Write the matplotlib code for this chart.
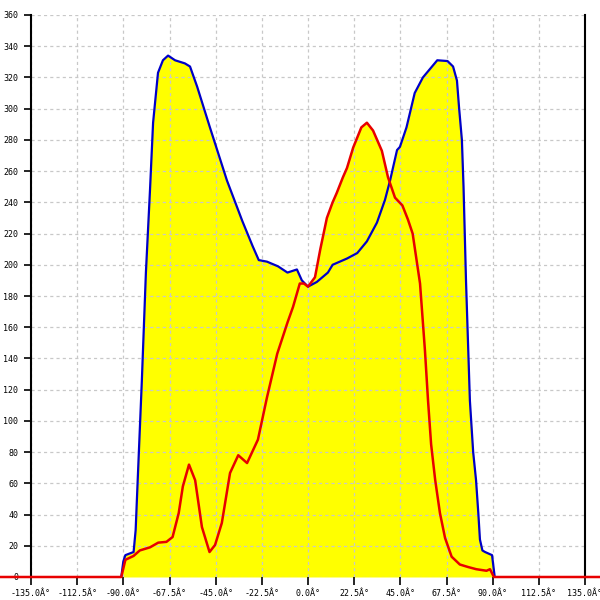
import numpy as np
import matplotlib
matplotlib.use("Agg")
import matplotlib.pyplot as plt

# blue series (upper envelope)
blue_x = [-91, -90, -89, -87, -85, -84, -83, -81, -79, -77, -75.5, -73.1, -70.7, -68.2,
          -64.8, -60, -57.5, -54, -47.8, -39.5, -32, -27, -24, -20, -14.6, -10, -5.4,
          -3, 0, 4.3, 9.7, 12, 19, 24, 28.7, 33.6, 37.5, 40, 43.4, 44.8, 48, 52, 56,
          63, 68, 70.7, 72.6, 73.6, 75, 75.8, 77, 78.9, 80.5, 81.9, 83, 83.8, 85, 86.3, 89.7, 91]
blue_y = [0, 10, 14, 15, 16, 30, 62, 125, 195, 248, 291, 323, 331, 334,
          331, 329, 327, 314, 288, 254, 228, 212, 203, 202, 199, 195, 197,
          190, 186, 189, 195, 200, 204, 207.5, 215, 227, 241.5, 254, 273.5, 275.5, 288, 310, 320,
          331, 330.5, 327, 318, 301, 280, 250, 190, 113, 80, 62, 41, 24, 17, 16, 14, 0]

# red series
red_x = [-150, -91, -89, -85, -82, -77, -73, -69, -66, -63, -61, -58, -55, -51.7, -48,
         -45.3, -42, -38, -34, -29.7, -24.4, -20, -15, -10, -7.3, -4, -2, 0, 3.4, 6,
         9.2, 12, 14, 17, 19, 22, 26, 28.7, 31.7, 36, 39, 42.4, 46, 48.7, 51, 54.6,
         57, 58.5, 60, 62, 64.3, 66.8, 70, 74, 78, 82, 87, 88.7, 90.6, 145]
red_y = [0, 0, 11, 13.5, 17, 19, 22, 22.5, 25.6, 41, 58, 72, 62, 32, 16,
         20.5, 34.6, 66.6, 78, 73, 88, 115, 143, 163, 173, 188, 188, 186, 192, 210,
         230, 240, 246, 256, 262, 275, 288, 291, 286, 273, 256, 243, 238, 229, 220, 188,
         145, 113, 85, 62, 41, 25, 13, 8, 6.4, 5, 4, 5, 0, 0]

x_ticks = np.arange(-135, 135.1, 22.5)
y_ticks = np.arange(0, 361, 20)

fig = plt.figure(figsize=(6, 6), dpi=100)
ax = fig.add_axes([31 / 600, 23 / 600, 554 / 600, 562 / 600])

ax.fill_between(blue_x, blue_y, 0, color="#ffff00", linewidth=0, zorder=1)
ax.fill_between(red_x, red_y, 0, color="#ffff00", linewidth=0, zorder=1)
ax.plot(blue_x, blue_y, color="#0000c8", linewidth=1.6, zorder=4)
ax.plot(red_x, red_y, color="#e80000", linewidth=1.8, zorder=8, clip_on=False)

ax.set_xlim(-135, 135)
ax.set_ylim(0, 360)
ax.set_xticks(x_ticks)
ax.set_xticklabels([f"{v:.1f}Â°" for v in x_ticks])
ax.set_yticks(y_ticks)
ax.set_yticklabels([f"{int(v)}" for v in y_ticks])

ax.set_axisbelow(False)
ax.grid(True, color="#c8c8c8", linestyle=(0, (2.5, 2.5)), linewidth=0.9, zorder=2.5)

for lab in ax.get_xticklabels() + ax.get_yticklabels():
    lab.set_family("DejaVu Sans Mono")
    lab.set_fontsize(6)
ax.tick_params(axis="x", direction="out", length=6, width=1.2, pad=3)
ax.tick_params(axis="y", direction="out", length=5, width=1.2, pad=4)

ax.spines["top"].set_visible(False)
ax.spines["bottom"].set_visible(False)
for side in ["left", "right"]:
    ax.spines[side].set_linewidth(1.5)
    ax.spines[side].set_zorder(6)

plt.savefig("out.png", dpi=100)
